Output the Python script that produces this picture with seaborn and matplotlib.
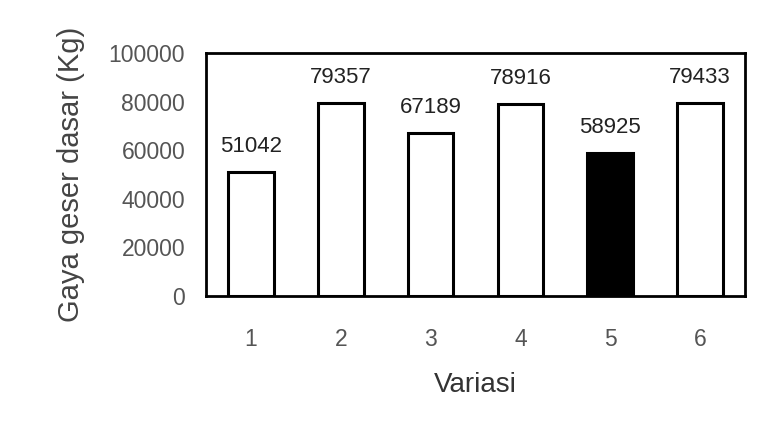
import matplotlib
matplotlib.use("Agg")
import matplotlib.pyplot as plt
import seaborn as sns
import pandas as pd

variasi = ["1", "2", "3", "4", "5", "6"]
gaya_geser = [51042, 79357, 67189, 78916, 58925, 79433]
bar_fill = ["white", "white", "white", "white", "black", "white"]
y_ticks = [0, 20000, 40000, 60000, 80000, 100000]

sns.set_theme(style="white")
plt.rcParams["font.family"] = ["Liberation Sans", "DejaVu Sans"]

df = pd.DataFrame({"Variasi": variasi, "Gaya": gaya_geser})

fig = plt.figure(figsize=(7.57, 4.29), dpi=100)
ax = fig.add_axes([206 / 757, 1 - 296 / 429, (745 - 206) / 757, (296 - 53) / 429])

sns.barplot(data=df, x="Variasi", y="Gaya", hue="Variasi", palette=bar_fill,
            legend=False, width=0.51, edgecolor="black", linewidth=2.2,
            saturation=1, ax=ax)

# value labels a fixed distance above each bar
for i, v in enumerate(gaya_geser):
    ax.annotate(str(v), xy=(i, v), xytext=(0, 14.5), textcoords="offset points",
                ha="center", va="baseline", fontsize=16, color="#222222")

ax.set_xlim(-0.5, 5.5)
ax.set_ylim(0, 100000)
ax.set_yticks(y_ticks)
ax.set_yticklabels([str(t) for t in y_ticks])
ax.tick_params(axis="both", length=0, labelsize=16.5, labelcolor="#555555")
ax.tick_params(axis="y", pad=15)
ax.tick_params(axis="x", pad=23)

for s in ax.spines.values():
    s.set_visible(True)
    s.set_color("black")
    s.set_linewidth(2)

ax.set_xlabel("Variasi", fontsize=20, color="#333333", labelpad=15)
ax.set_ylabel("Gaya geser dasar (Kg)", fontsize=21, color="#444444", labelpad=17)

fig.savefig("out.png", dpi=100, facecolor="white")
